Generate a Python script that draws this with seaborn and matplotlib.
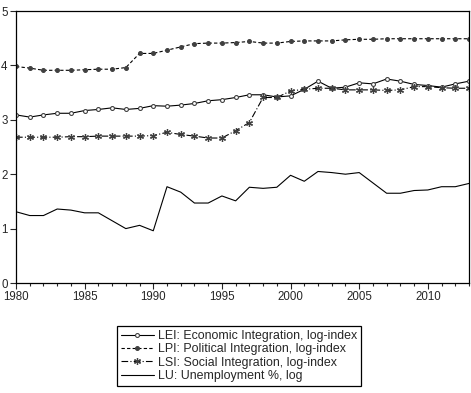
import numpy as np
import pandas as pd
import seaborn as sns
import matplotlib.pyplot as plt
from matplotlib.ticker import MultipleLocator

years = list(range(1980, 2014))

lei = [3.09, 3.05, 3.09, 3.12, 3.12, 3.17, 3.19, 3.22, 3.19, 3.21,
       3.26, 3.25, 3.27, 3.30, 3.35, 3.37, 3.41, 3.46, 3.46, 3.42,
       3.44, 3.56, 3.71, 3.58, 3.60, 3.68, 3.66, 3.75, 3.71, 3.65,
       3.63, 3.60, 3.66, 3.71]
lpi = [3.98, 3.95, 3.91, 3.91, 3.91, 3.92, 3.93, 3.93, 3.96, 4.22,
       4.22, 4.28, 4.34, 4.40, 4.41, 4.41, 4.42, 4.44, 4.41, 4.41,
       4.44, 4.45, 4.45, 4.45, 4.47, 4.48, 4.48, 4.49, 4.49, 4.49,
       4.49, 4.49, 4.49, 4.49]
lsi = [2.68, 2.68, 2.68, 2.68, 2.69, 2.69, 2.70, 2.70, 2.70, 2.70,
       2.71, 2.77, 2.73, 2.70, 2.665, 2.665, 2.80, 2.95, 3.41, 3.41,
       3.53, 3.56, 3.58, 3.58, 3.55, 3.55, 3.55, 3.54, 3.55, 3.61,
       3.61, 3.59, 3.58, 3.58]
lu = [1.31, 1.24, 1.24, 1.36, 1.34, 1.29, 1.29, 1.145, 1.00, 1.06,
      0.96, 1.77, 1.67, 1.47, 1.47, 1.60, 1.51, 1.76, 1.74, 1.76,
      1.98, 1.87, 2.05, 2.03, 2.00, 2.03, 1.84, 1.65, 1.65, 1.70,
      1.71, 1.77, 1.77, 1.83]

labels = ["LEI: Economic Integration, log-index",
          "LPI: Political Integration, log-index",
          "LSI: Social Integration, log-index",
          "LU: Unemployment %, log"]

sns.set_style("white")
plt.rcParams['font.family'] = ['Liberation Sans', 'DejaVu Sans']
plt.rcParams['font.size'] = 8.3

fig = plt.figure(figsize=(4.71, 3.93), dpi=100)
ax = fig.add_axes([16 / 471, 1 - 283 / 393, 453 / 471, 272 / 393])

mk = '#404040'
sns.lineplot(x=years, y=lei, ax=ax, color='black', linewidth=0.8,
             marker='o', markersize=2.8, markerfacecolor='white',
             markeredgecolor=mk, markeredgewidth=0.8, label=labels[0])
sns.lineplot(x=years, y=lpi, ax=ax, color='black', linewidth=0.8,
             linestyle=(0, (3, 2)), marker='o', markersize=2.8,
             markerfacecolor=mk, markeredgecolor=mk, label=labels[1])
sns.lineplot(x=years, y=lsi, ax=ax, color='black', linewidth=0.8,
             linestyle=(0, (6, 2, 1, 2)), marker=(6, 2, 0), markersize=5,
             markeredgecolor=mk, markeredgewidth=0.9, label=labels[2])
sns.lineplot(x=years, y=lu, ax=ax, color='black', linewidth=0.8,
             label=labels[3])

ax.set_xlim(1980, 2013)
ax.set_ylim(0, 5)
ax.xaxis.set_major_locator(MultipleLocator(5))
ax.xaxis.set_minor_locator(MultipleLocator(1))
ax.yaxis.set_major_locator(MultipleLocator(1))
ax.tick_params(axis='x', which='major', direction='out', length=4, width=0.8,
               bottom=True, pad=2)
ax.tick_params(axis='x', which='minor', direction='out', length=2.5,
               width=0.8, bottom=True)
ax.tick_params(axis='y', direction='out', length=4, width=0.8, left=True,
               pad=2)
for s in ax.spines.values():
    s.set_color('black')
    s.set_linewidth(0.9)

ax.get_legend().remove()
h, l = ax.get_legend_handles_labels()
leg = fig.legend(h, l, loc='center', bbox_to_anchor=(0.508, 0.094),
                 frameon=True, fancybox=False, framealpha=1,
                 edgecolor='black', handlelength=2.7, handletextpad=0.35,
                 labelspacing=0.12, borderpad=0.3, borderaxespad=0,
                 numpoints=1, fontsize=8.9)
leg.get_frame().set_linewidth(0.9)

fig.savefig("out.png", dpi=100)
